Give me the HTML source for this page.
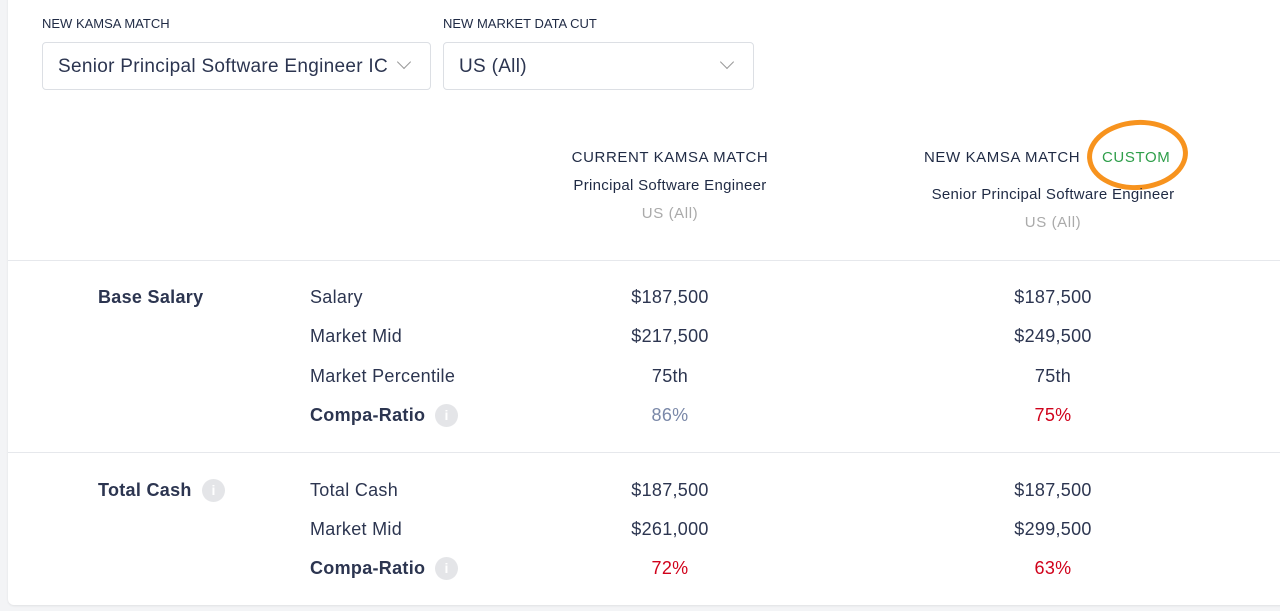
<!DOCTYPE html>
<html><head><style>
body{margin:0;width:1280px;height:611px;background:#f3f4f6;font-family:"Liberation Sans",sans-serif;position:relative;overflow:hidden;color:#1f2a44}
.card{position:absolute;left:8px;top:-10px;width:1290px;height:615px;background:#fff;border-radius:6px;box-shadow:0 1px 2px rgba(0,0,0,.08)}
.a{position:absolute;white-space:nowrap}
.lbl{font-size:13px;color:#1f2a44}
.dd{position:absolute;top:42px;height:48px;border:1px solid #dcdfe4;border-radius:4px;background:#fff;box-sizing:border-box;font-size:19px;color:#2c3550;line-height:48px;padding-left:15px;overflow:hidden;letter-spacing:0.3px;white-space:nowrap}
.dd span{display:inline-block;width:330px;overflow:hidden;vertical-align:top;white-space:nowrap}
.chev{position:absolute;top:14px;width:9px;height:9px;border-right:1.5px solid #999;border-bottom:1.5px solid #999;transform:rotate(45deg)}
.hr{position:absolute;left:8px;right:0;height:1px;background:#e6e8ec}
.c{text-align:center;transform:translateX(-50%)}
.t{font-size:18px;color:#2c3550;letter-spacing:0.3px}
.h{font-size:15px;letter-spacing:0.6px}
.b{font-weight:bold}
.i{position:absolute;width:23px;height:23px;border-radius:50%;background:#e4e5e8;color:#fff;font-size:14px;font-weight:bold;text-align:center;line-height:23px}
</style></head><body>
<div class="card"></div>
<div class="a lbl" style="left:42px;top:16px">NEW KAMSA MATCH</div>
<div class="a lbl" style="left:443px;top:16px">NEW MARKET DATA CUT</div>
<div class="dd" style="left:42px;width:389px"><span>Senior Principal Software Engineer IC6</span><div class="chev" style="left:356px"></div></div>
<div class="dd" style="left:443px;width:311px">US (All)<div class="chev" style="left:278px"></div></div>

<div class="a c h" style="left:670px;top:149px">CURRENT KAMSA MATCH</div>
<div class="a c h" style="left:670px;top:177px;letter-spacing:0.3px">Principal Software Engineer</div>
<div class="a c h" style="left:670px;top:205px;color:#aaa">US (All)</div>

<div class="a h" style="left:924px;top:149px">NEW KAMSA MATCH</div>
<div class="a h" style="left:1102px;top:149px;color:#2e9e4a">CUSTOM</div>
<div class="a" style="left:1087px;top:120px;width:101px;height:70px;border:5px solid #f7931e;border-radius:50%;box-sizing:border-box;transform:rotate(-4deg)"></div>
<div class="a c h" style="left:1053px;top:186px;letter-spacing:0.3px">Senior Principal Software Engineer</div>
<div class="a c h" style="left:1053px;top:214px;color:#aaa">US (All)</div>

<div class="hr" style="top:260px"></div>
<div class="hr" style="top:452px"></div>

<div class="a t b" style="left:98px;top:287px">Base Salary</div>
<div class="a t" style="left:310px;top:287px">Salary</div>
<div class="a t" style="left:310px;top:326px">Market Mid</div>
<div class="a t" style="left:310px;top:366px">Market Percentile</div>
<div class="a t b" style="left:310px;top:405px">Compa-Ratio</div>
<div class="i" style="left:435px;top:404px">i</div>
<div class="a t c" style="left:670px;top:287px">$187,500</div>
<div class="a t c" style="left:670px;top:326px">$217,500</div>
<div class="a t c" style="left:670px;top:366px">75th</div>
<div class="a t c" style="left:670px;top:405px;color:#7a88a8">86%</div>
<div class="a t c" style="left:1053px;top:287px">$187,500</div>
<div class="a t c" style="left:1053px;top:326px">$249,500</div>
<div class="a t c" style="left:1053px;top:366px">75th</div>
<div class="a t c" style="left:1053px;top:405px;color:#d0021b">75%</div>

<div class="a t b" style="left:98px;top:480px">Total Cash</div>
<div class="i" style="left:202px;top:479px">i</div>
<div class="a t" style="left:310px;top:480px">Total Cash</div>
<div class="a t" style="left:310px;top:519px">Market Mid</div>
<div class="a t b" style="left:310px;top:558px">Compa-Ratio</div>
<div class="i" style="left:435px;top:557px">i</div>
<div class="a t c" style="left:670px;top:480px">$187,500</div>
<div class="a t c" style="left:670px;top:519px">$261,000</div>
<div class="a t c" style="left:670px;top:558px;color:#d0021b">72%</div>
<div class="a t c" style="left:1053px;top:480px">$187,500</div>
<div class="a t c" style="left:1053px;top:519px">$299,500</div>
<div class="a t c" style="left:1053px;top:558px;color:#d0021b">63%</div>
</body></html>
